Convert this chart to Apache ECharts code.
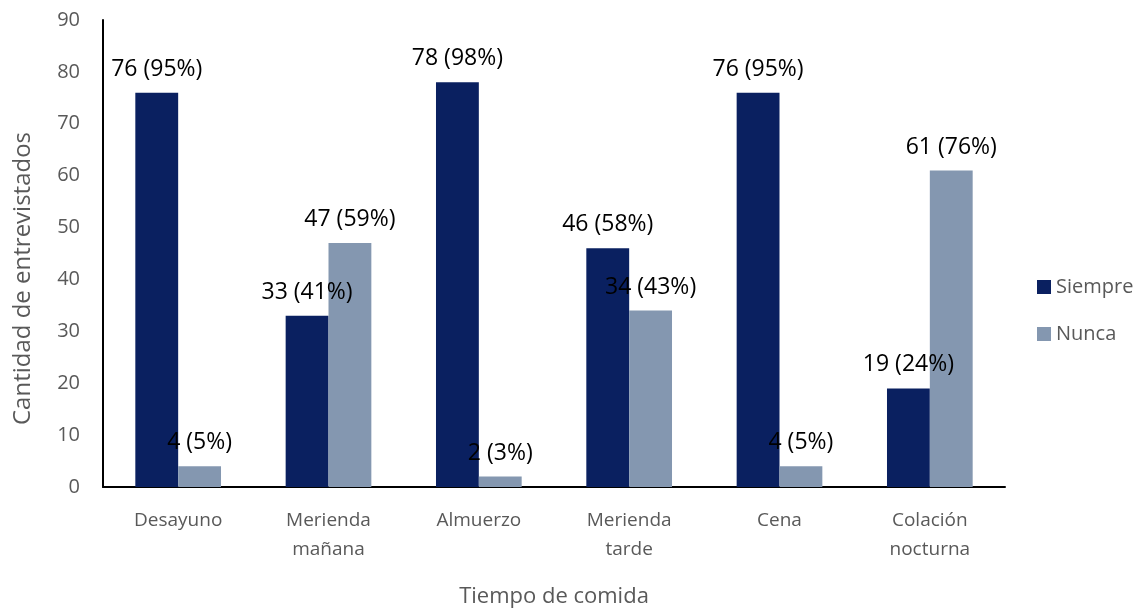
<!DOCTYPE html>
<html>
<head>
<meta charset="utf-8">
<script src="https://cdn.jsdelivr.net/npm/echarts@6/dist/echarts.min.js"></script>
<style>
html, body { margin: 0; padding: 0; background: #fff; }
#chart { width: 1141px; height: 611px; }
</style>
</head>
<body>
<div id="chart"></div>
<script>
// categorías y valores
var categories = ['Desayuno', 'Merienda\nmañana', 'Almuerzo', 'Merienda\ntarde', 'Cena', 'Colación\nnocturna']
var siempre = [76, 33, 78, 46, 76, 19]
var siemprePct = [95, 41, 98, 58, 95, 24]
var nunca = [4, 47, 2, 34, 4, 61]
var nuncaPct = [5, 59, 3, 43, 5, 76]

var font = 'Open Sans'
var chart = echarts.init(document.getElementById('chart'))

function labelFor (pcts) {
    return {
        show: true,
        position: 'top',
        distance: 12,
        color: '#000',
        fontFamily: font,
        fontSize: 23,
        formatter: function (p) {
            return p.value + ' (' + pcts[p.dataIndex] + '%)'
        }
    }
}

var option = {
    animation: false,
    backgroundColor: '#fff',
    grid: { left: 103, right: 136, top: 20, bottom: 124, outerBoundsMode: 'none' },
    legend: {
        orient: 'vertical',
        left: 1032,
        top: 272,
        itemGap: 27,
        itemWidth: 14,
        itemHeight: 14,
        icon: 'rect',
        textStyle: { color: '#595959', fontFamily: font, fontSize: 20 },
        data: ['Siempre', 'Nunca']
    },
    xAxis: {
        type: 'category',
        data: categories,
        name: 'Tiempo de comida',
        nameLocation: 'middle',
        nameGap: 99,
        nameTextStyle: { color: '#595959', fontFamily: font, fontSize: 22 },
        axisLine: { lineStyle: { color: '#000', width: 2 } },
        axisTick: { show: false },
        axisLabel: {
            color: '#595959',
            fontFamily: font,
            fontSize: 19,
            margin: 19,
            lineHeight: 29,
            interval: 0
        }
    },
    yAxis: {
        type: 'value',
        min: 0,
        max: 90,
        interval: 10,
        name: 'Cantidad de entrevistados',
        nameLocation: 'middle',
        nameGap: 68,
        nameTextStyle: { color: '#595959', fontFamily: font, fontSize: 24, padding: [0, 50, 0, 0] },
        axisLine: { show: true, lineStyle: { color: '#000', width: 2 } },
        axisTick: { show: false },
        splitLine: { show: false },
        axisLabel: { color: '#595959', fontFamily: font, fontSize: 20, margin: 23 }
    },
    series: [
        {
            name: 'Siempre',
            type: 'bar',
            data: siempre,
            barGap: '0%',
            barCategoryGap: '43%',
            itemStyle: { color: '#0a2060' },
            label: labelFor(siemprePct)
        },
        {
            name: 'Nunca',
            type: 'bar',
            data: nunca,
            itemStyle: { color: '#8497b0' },
            label: labelFor(nuncaPct)
        }
    ]
}
chart.setOption(option)
</script>
</body>
</html>
